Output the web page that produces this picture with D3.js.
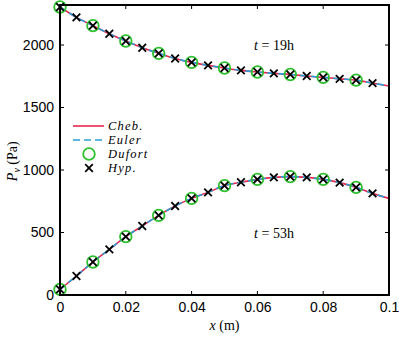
<!DOCTYPE html>
<html>
<head>
<meta charset="utf-8">
<script src="https://cdn.jsdelivr.net/npm/d3@7"></script>
<style>
  body { margin: 0; background: #fff; }
  text { font-family: "Liberation Sans", Arial, sans-serif; }
  .tex { font-family: "Liberation Serif", "DejaVu Serif", serif; }
</style>
</head>
<body>
<div id="chart"></div>
<script>
const width = 399;
const height = 337;
const margin = { top: 5, right: 10, bottom: 42, left: 60 };

// x positions (m) of the Hyp. samples; Dufort uses every other one
const xs = [0, 0.005, 0.01, 0.015, 0.02, 0.025, 0.03, 0.035, 0.04, 0.045, 0.05,
  0.055, 0.06, 0.065, 0.07, 0.075, 0.08, 0.085, 0.09, 0.095, 0.1];

// t = 19h profile (Pa)
const pv19 = [2304, 2221, 2155, 2090, 2032, 1978, 1933, 1892, 1861, 1837, 1816,
  1797, 1784, 1773, 1764, 1752, 1741, 1729, 1719, 1695, 1672];
// t = 53h profile (Pa)
const pv53 = [45, 152, 264, 365, 467, 552, 637, 712, 773, 821, 875,
  902, 925, 941, 947, 941, 925, 899, 861, 813, 773];

const xTicks = [0, 0.02, 0.04, 0.06, 0.08, 0.1];
const yTicks = [0, 500, 1000, 1500, 2000];
const legendNames = ['Cheb.', 'Euler', 'Dufort', 'Hyp.'];

const red = '#e8294f';
const blue = '#2b9fd8';
const green = '#2ec02e';

const svg = d3.select('#chart').append('svg')
  .attr('width', width).attr('height', height);

const x = d3.scaleLinear().domain([0, 0.1])
  .range([margin.left, width - margin.right]);
const y = d3.scaleLinear().domain([0, 2320])
  .range([height - margin.bottom, margin.top]);

svg.append('clipPath').attr('id', 'clip')
  .append('rect')
  .attr('x', margin.left).attr('y', margin.top)
  .attr('width', x(0.1) - x(0)).attr('height', y(0) - y(2320));

const curves = [pv19, pv53];

const line = d3.line()
  .x((d, i) => x(xs[i]))
  .y((d) => y(d))
  .curve(d3.curveCatmullRom);

const plot = svg.append('g').attr('clip-path', 'url(#clip)');

curves.forEach((c) => {
  plot.append('path').datum(c)
    .attr('d', line)
    .attr('fill', 'none')
    .attr('stroke', red)
    .attr('stroke-width', 1.6);
  plot.append('path').datum(c)
    .attr('d', line)
    .attr('fill', 'none')
    .attr('stroke', blue)
    .attr('stroke-width', 1.6)
    .attr('stroke-dasharray', '7,4');
});

const marks = svg.append('g');

function cross(g, cx, cy, s) {
  g.append('path')
    .attr('d', `M${cx - s},${cy - s}L${cx + s},${cy + s}M${cx - s},${cy + s}L${cx + s},${cy - s}`)
    .attr('stroke', '#000')
    .attr('stroke-width', 1.8)
    .attr('fill', 'none');
}

curves.forEach((c) => {
  c.forEach((v, i) => {
    if (i % 2 === 0 && xs[i] < 0.1) {
      marks.append('circle')
        .attr('cx', x(xs[i])).attr('cy', y(v))
        .attr('r', 5.8)
        .attr('fill', 'none')
        .attr('stroke', green)
        .attr('stroke-width', 1.8);
    }
  });
  c.forEach((v, i) => {
    if (xs[i] < 0.1) cross(marks, x(xs[i]), y(v), 3.8);
  });
});

// axes: inward ticks on all four sides
const tickLen = 4;
const xAxisB = d3.axisBottom(x).tickValues(xTicks).tickSize(0).tickPadding(7)
  .tickFormat((d) => d === 0 ? '0' : d3.format('.2~f')(d));
const yAxisL = d3.axisLeft(y).tickValues(yTicks).tickSize(0).tickPadding(6)
  .tickFormat(d3.format('d'));

svg.append('g').attr('transform', `translate(0,${y(0)})`).call(xAxisB)
  .call((g) => g.select('.domain').remove())
  .selectAll('text').attr('font-size', 14).attr('fill', '#000');
svg.append('g').attr('transform', `translate(${x(0)},0)`).call(yAxisL)
  .call((g) => g.select('.domain').remove())
  .selectAll('text').attr('font-size', 14).attr('fill', '#000');

const ticks = svg.append('g').attr('stroke', '#000').attr('stroke-width', 1);
xTicks.forEach((t) => {
  ticks.append('line').attr('x1', x(t)).attr('x2', x(t))
    .attr('y1', y(0)).attr('y2', y(0) - tickLen);
  ticks.append('line').attr('x1', x(t)).attr('x2', x(t))
    .attr('y1', margin.top).attr('y2', margin.top + tickLen);
});
yTicks.forEach((t) => {
  ticks.append('line').attr('x1', x(0)).attr('x2', x(0) + tickLen)
    .attr('y1', y(t)).attr('y2', y(t));
  ticks.append('line').attr('x1', x(0.1)).attr('x2', x(0.1) - tickLen)
    .attr('y1', y(t)).attr('y2', y(t));
});

svg.append('rect')
  .attr('x', x(0)).attr('y', margin.top)
  .attr('width', x(0.1) - x(0)).attr('height', y(0) - margin.top)
  .attr('fill', 'none')
  .attr('stroke', '#000')
  .attr('stroke-width', 2);

// axis labels
const xl = svg.append('text').attr('class', 'tex')
  .attr('x', (x(0) + x(0.1)) / 2).attr('y', 330)
  .attr('text-anchor', 'middle').attr('font-size', 14);
xl.append('tspan').attr('font-style', 'italic').text('x');
xl.append('tspan').text(' (m)');

const yl = svg.append('text').attr('class', 'tex')
  .attr('transform', `translate(17,${y(1070)}) rotate(-90)`)
  .attr('text-anchor', 'middle').attr('font-size', 14);
yl.append('tspan').attr('font-style', 'italic').text('P');
yl.append('tspan').attr('font-style', 'italic').attr('font-size', 10).attr('dy', 3).text('v');
yl.append('tspan').attr('dy', -3).text(' (Pa)');

// annotations
[['19h', 1960], ['53h', 460]].forEach(([lab, v]) => {
  const t = svg.append('text').attr('class', 'tex')
    .attr('x', x(0.059)).attr('y', y(v))
    .attr('font-size', 14);
  t.append('tspan').attr('font-style', 'italic').text('t');
  t.append('tspan').text('  = ' + lab);
});

// legend
const lg = svg.append('g');
const rowY = [126, 140, 154, 168];
lg.append('line').attr('x1', 73).attr('x2', 104).attr('y1', rowY[0]).attr('y2', rowY[0])
  .attr('stroke', red).attr('stroke-width', 1.6);
lg.append('line').attr('x1', 73).attr('x2', 104).attr('y1', rowY[1]).attr('y2', rowY[1])
  .attr('stroke', blue).attr('stroke-width', 1.6).attr('stroke-dasharray', '7,4');
lg.append('circle').attr('cx', 89).attr('cy', rowY[2]).attr('r', 5.8)
  .attr('fill', 'none').attr('stroke', green).attr('stroke-width', 1.8);
cross(lg, 89, rowY[3], 3.8);
legendNames.forEach((n, i) => {
  lg.append('text').attr('class', 'tex')
    .attr('x', 108).attr('y', rowY[i] + 4)
    .attr('font-size', 12.5).attr('font-style', 'italic')
    .attr('letter-spacing', 1.2)
    .text(n);
});
</script>
</body>
</html>
